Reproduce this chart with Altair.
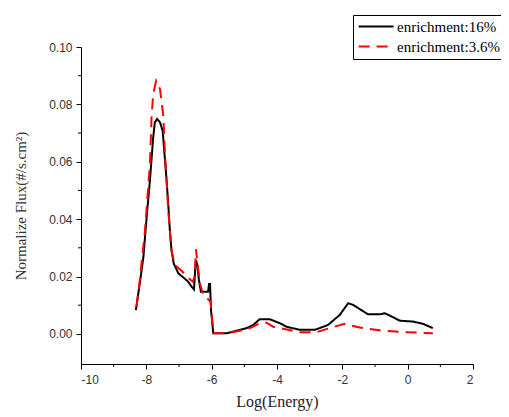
import altair as alt
import pandas as pd

# ---- data ----
series_names = ["enrichment:16%", "enrichment:3.6%"]

x16 = [-8.32, -8.20, -8.09, -7.99, -7.89, -7.79, -7.74, -7.67, -7.58, -7.50, -7.46,
       -7.38, -7.33, -7.28, -7.23, -7.16, -7.02, -6.87, -6.72, -6.61, -6.54, -6.50,
       -6.48, -6.44, -6.39, -6.33, -6.11, -6.08, -6.05, -6.02, -5.95, -5.54, -4.93,
       -4.73, -4.53, -4.22, -3.91, -3.71, -3.30, -2.84, -2.44, -2.08, -1.82, -1.67,
       -1.21, -0.86, -0.70, -0.55, -0.24, 0.16, 0.47, 0.77]
y16 = [0.0083, 0.0176, 0.0268, 0.0407, 0.0535, 0.0685, 0.0737, 0.0749, 0.0737, 0.0708, 0.0650,
       0.0535, 0.0454, 0.0361, 0.0292, 0.0245, 0.0211, 0.0197, 0.0182, 0.0164, 0.0155, 0.0234,
       0.0257, 0.0240, 0.0188, 0.0147, 0.0147, 0.0174, 0.0174, 0.0083, 0.0002, 0.0002, 0.0020,
       0.0031, 0.0051, 0.0051, 0.0037, 0.0025, 0.0014, 0.0014, 0.0031, 0.0066, 0.0107, 0.0101,
       0.0068, 0.0068, 0.0072, 0.0064, 0.0046, 0.0043, 0.0035, 0.0020]

x36 = [-8.30, -8.20, -8.04, -7.89, -7.84, -7.79, -7.70, -7.58, -7.48, -7.43, -7.38,
       -7.33, -7.23, -7.13, -6.92, -6.75, -6.58, -6.52, -6.48, -6.42, -6.36, -6.26,
       -6.14, -6.03, -5.95, -5.54, -5.14, -4.83, -4.53, -4.32, -4.12, -3.91, -3.30,
       -2.79, -2.39, -1.93, -1.47, -0.76, -0.04, 0.77]
y36 = [0.0095, 0.0188, 0.0361, 0.0593, 0.0755, 0.0836, 0.0882, 0.0853, 0.0760, 0.0627, 0.0535,
       0.0431, 0.0292, 0.0240, 0.0220, 0.0199, 0.0182, 0.0200, 0.0295, 0.0234, 0.0176, 0.0135,
       0.0124, 0.0112, 0.0002, 0.0002, 0.0011, 0.0020, 0.0037, 0.0039, 0.0025, 0.0020, 0.0006,
       0.0006, 0.0020, 0.0035, 0.0022, 0.0011, 0.0006, 0.0002]

x_ticks = [-10, -8, -6, -4, -2, 0, 2]
x_minor = [-9, -7, -5, -3, -1, 1]
y_ticks = [0.0, 0.02, 0.04, 0.06, 0.08, 0.10]
y_minor = [0.01, 0.03, 0.05, 0.07, 0.09]

df = pd.concat([
    pd.DataFrame({"x": x16, "y": y16, "series": series_names[0]}),
    pd.DataFrame({"x": x36, "y": y36, "series": series_names[1]}),
])

W, H = 392, 317
xscale = alt.Scale(domain=[-10, 2], nice=False, zero=False)
yscale = alt.Scale(domain=[-0.0105, 0.1], nice=False, zero=False)

label_font = "Liberation Sans"
title_font = "Liberation Serif"

x_axis = alt.Axis(values=x_ticks, title="Log(Energy)", labelExpr="'' + datum.value",
                  grid=False, tickSize=5, labelPadding=5,
                  titlePadding=8, domainColor="#000", tickColor="#000",
                  labelColor="#333", labelFont=label_font, labelFontSize=12,
                  titleFont=title_font, titleFontSize=16, titleFontWeight="normal",
                  titleColor="#222")
y_axis = alt.Axis(values=y_ticks, title="Normalize Flux(#/s.cm²)", format=".2f",
                  grid=False, tickSize=5, labelPadding=4,
                  titlePadding=20, domainColor="#000", tickColor="#000",
                  labelColor="#333", labelFont=label_font, labelFontSize=12,
                  titleFont=title_font, titleFontSize=15, titleFontWeight="normal",
                  titleColor="#333")

legend = alt.Legend(
    title=None, orient="none", legendX=272, legendY=-32,
    strokeColor="#000", fillColor="#fff", padding=4,
    symbolType="M-1,0H5", symbolSize=136, symbolStrokeWidth=2,
    labelFont=title_font, labelFontSize=15, labelColor="#000",
    labelOffset=25, rowPadding=4, labelLimit=300,
)

lines = alt.Chart(df).mark_line(strokeWidth=2).encode(
    x=alt.X("x:Q", scale=xscale, axis=x_axis),
    y=alt.Y("y:Q", scale=yscale, axis=y_axis),
    color=alt.Color("series:N", scale=alt.Scale(domain=series_names, range=["#000000", "#ff0000"]),
                    legend=legend),
    strokeDash=alt.StrokeDash("series:N", scale=alt.Scale(domain=series_names, range=[[1, 0], [11, 7]]),
                              legend=legend),
)

ym = alt.Chart(pd.DataFrame({"y": y_minor})).mark_rule(color="#000", strokeWidth=1).encode(
    y=alt.Y("y:Q", scale=yscale, axis=y_axis),
    x=alt.value(0), x2=alt.value(-3),
)
xm = alt.Chart(pd.DataFrame({"x": x_minor})).mark_rule(color="#000", strokeWidth=1).encode(
    x=alt.X("x:Q", scale=xscale, axis=x_axis),
    y=alt.value(H), y2=alt.value(H + 3),
)

chart = alt.layer(lines, ym, xm).properties(
    width=W, height=H,
    autosize=alt.AutoSizeParams(type="none"),
    padding={"left": 73, "top": 39, "right": 28, "bottom": 50},
).configure_view(strokeWidth=0)

chart.save("out.html", embed_options={"renderer": "svg", "actions": False})
